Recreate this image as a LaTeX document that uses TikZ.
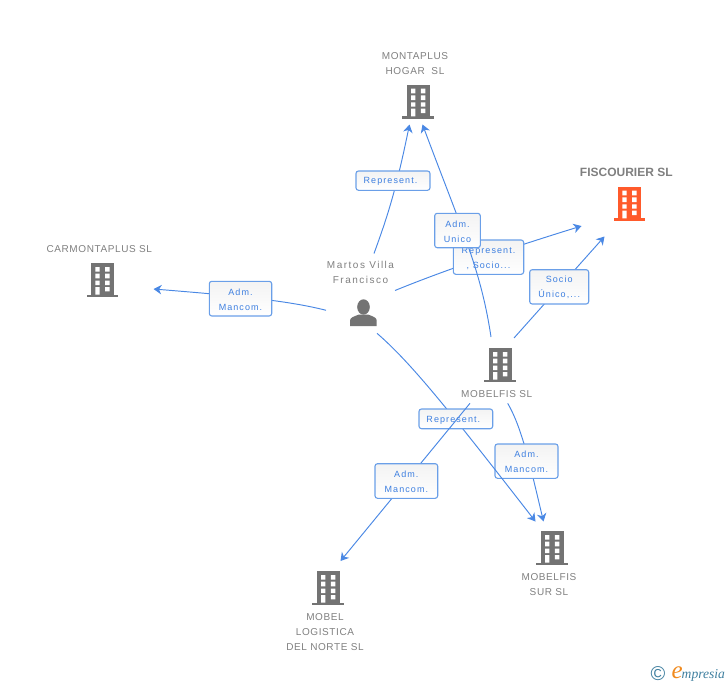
\documentclass[tikz,border=0pt]{standalone}
\usepackage{fontspec}
\usetikzlibrary{arrows.meta}
\setmainfont{Liberation Sans}
\newfontfamily\lblfont[LetterSpace=6]{Liberation Sans}
\newfontfamily\prsfont[LetterSpace=15]{Liberation Sans}
\newfontfamily\boxfont[LetterSpace=12]{Liberation Sans}
\newfontfamily\logofont{Liberation Serif}
\definecolor{edgeblue}{HTML}{4A88E4}
\definecolor{boxline}{HTML}{6A9FE8}
\definecolor{boxtext}{HTML}{3D7FE0}
\definecolor{boxtop}{HTML}{F3F3F3}
\definecolor{labgray}{HTML}{7F7F7F}
\definecolor{bldgray}{HTML}{737373}
\definecolor{bldorange}{HTML}{FF5A2B}
\definecolor{logoteal}{HTML}{3F7F9F}
\definecolor{logoorange}{HTML}{F08A1E}
\tikzset{
  x=1pt,y=-1pt,
  edge/.style={draw=edgeblue,line width=0.95pt,-{Stealth[length=8pt,width=9.5pt,inset=2.5pt]}},
  relbox/.style={draw=boxline,line width=1.1pt,rounded corners=2.5pt,top color=boxtop,bottom color=white,text=boxtext,
    font=\boxfont\fontsize{9}{15}\selectfont,align=center,inner sep=0pt},
  complabel/.style={text=labgray,font=\lblfont\fontsize{10}{15}\selectfont,align=center,inner sep=0pt},
  mainlabel/.style={text=labgray,font=\bfseries\fontsize{12}{15}\selectfont,align=center,inner sep=0pt},
  perslabel/.style={text=labgray,font=\prsfont\fontsize{10}{15}\selectfont,align=center,inner sep=0pt},
  pics/building/.style={code={
    \fill[#1] (0,0) rectangle (22.5,32.3);
    \fill[#1] (-4.7,31.3) rectangle (27,34);
    \fill[white] (4,3.7) rectangle (8.4,8.3) (13.8,3.7) rectangle (18.3,8.3)
      (4,10.3) rectangle (8.4,15) (13.8,10.3) rectangle (18.3,15)
      (4,17.3) rectangle (8.4,21.7) (13.8,17.3) rectangle (18.3,21.7)
      (4,23.7) rectangle (8.4,31.3) (13.8,23.7) rectangle (18.3,28);
  }},
}
\newcommand{\relnode}[6]{% name, x0, y0, x1, y1, text
  \node[relbox,minimum width=#4 pt-#2 pt,minimum height=#5 pt-#3 pt] (#1) at ({(#2+#4)/2},{(#3+#5)/2}) {\rule{0pt}{8.4pt}#6};}
\begin{document}
\begin{tikzpicture}
\useasboundingbox (0,0) rectangle (728,685);
% end points
\coordinate (persMont) at (374,253.5);
\coordinate (tipMontA) at (409.5,124.5);
\coordinate (mobMont) at (491,337);
\coordinate (tipMontB) at (422.5,124.5);
\coordinate (persFisc) at (395,290.5);
\coordinate (tipFiscA) at (581.5,226);
\coordinate (mobFisc) at (514,338);
\coordinate (tipFiscB) at (604.5,236.5);
\coordinate (persCarm) at (326,310.3);
\coordinate (tipCarm) at (153.5,289);
\coordinate (persSur) at (377,333.3);
\coordinate (tipSurA) at (535.5,521.5);
\coordinate (mobSur) at (507.7,403.3);
\coordinate (tipSurB) at (543.5,521.5);
\coordinate (mobLog) at (470,403.3);
\coordinate (tipLog) at (340.5,561);
% buildings
\pic at (407,85) {building=bldgray};
\pic at (618.3,187) {building=bldorange};
\pic at (91.3,263.3) {building=bldgray};
\pic at (489,348.3) {building=bldgray};
\pic at (541,531.3) {building=bldgray};
\pic at (317,571.3) {building=bldgray};
% person
\fill[bldgray] (363.5,307) ellipse (6.3 and 7.7);
\fill[bldgray] (350,326) -- (350,320.5) .. controls (350,317.5) and (354,316.5) .. (359,314.5)
  -- (368,314.5) .. controls (373,316.5) and (376.7,317.5) .. (376.7,320.5) -- (376.7,326) -- cycle;
% labels
\node[complabel] (lMont) at (415,63.2) {MONTAPLUS\\HOGAR\ \ SL};
\node[mainlabel] (lFisc) at (626.3,172.3) {FISCOURIER SL};
\node[complabel] (lCarm) at (99.3,249) {CARMONTAPLUS SL};
\node[perslabel] (lPers) at (360.5,272.2) {Martos Villa\\Francisco};
\node[complabel] (lMob) at (496.7,394) {MOBELFIS SL};
\node[complabel] (lSur) at (549,584.5) {MOBELFIS\\SUR SL};
\node[complabel] (lLog) at (325,632) {MOBEL\\LOGISTICA\\DEL NORTE SL};
% connectors and boxes, bottom to top
\draw[edge] (persMont) .. controls (388,215) and (396,190) .. (tipMontA);
\relnode{bRepTop}{356}{171}{430}{190.3}{Represent.\kern5pt}
\draw[edge] (persCarm) .. controls (290,301) and (240,296) .. (tipCarm);
\relnode{bCarm}{209.3}{281.3}{271.7}{316}{Adm.\\Mancom.}
\draw[edge] (persFisc) .. controls (450,268) and (520,245) .. (tipFiscA);
\relnode{bRepSoc}{453.3}{240}{523.7}{274.3}{Represent.\\, Socio...}
\draw[edge] (mobMont) .. controls (481,270) and (462,230) .. (tipMontB);
\relnode{bUnico}{434.7}{213.3}{480.3}{247.7}{Adm.\\Unico}
\draw[edge] (mobFisc) -- (tipFiscB);
\relnode{bSocio}{529.7}{269.7}{588.7}{304}{Socio\\Único,...}
\draw[edge] (mobSur) .. controls (522,428) and (530,465) .. (tipSurB);
\relnode{bSur}{495}{444}{558}{478.3}{Adm.\\Mancom.}
\draw[edge] (persSur) .. controls (410,362) and (445,405) .. (tipSurA);
\relnode{bRepLow}{419}{409}{492.7}{428.7}{Represent.\kern5pt}
\draw[edge] (mobLog) -- (tipLog);
\relnode{bLog}{375}{463.7}{437.7}{498.3}{Adm.\\Mancom.}
% logo
\node[text=logoteal,inner sep=0pt,font=\fontsize{20}{20}\selectfont] (logoC) at (658,673.3) {©};
\node[text=logoorange,inner sep=0pt,anchor=base west,font=\logofont\itshape\fontsize{25}{25}\selectfont] (logoE) at (671.5,678.5) {e};
\node[text=logoteal,inner sep=0pt,anchor=base west,font=\logofont\itshape\fontsize{13.6}{14}\selectfont] (logoT) at (681.5,678) {mpresia};
\end{tikzpicture}
\end{document}
